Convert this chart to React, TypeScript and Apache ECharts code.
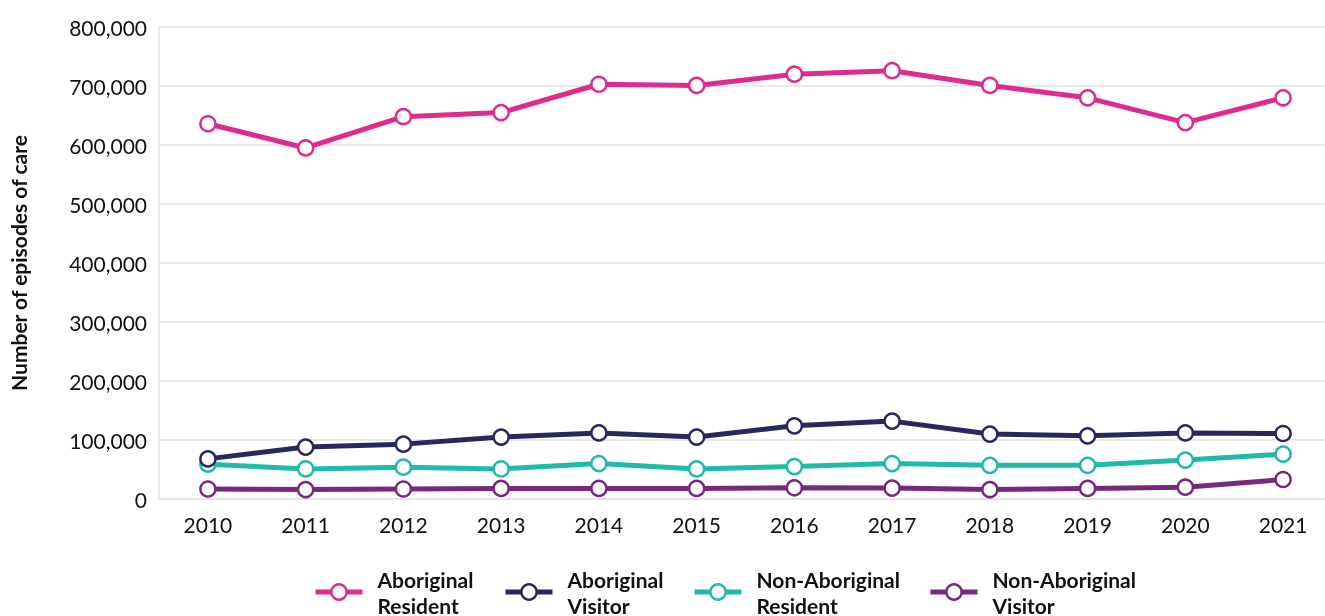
import React, { useEffect, useRef } from "react";
import * as echarts from "echarts";

const years = ["2010", "2011", "2012", "2013", "2014", "2015", "2016", "2017", "2018", "2019", "2020", "2021"];
const aboriginalResident = [636000, 595000, 648000, 655000, 703000, 701000, 720000, 726000, 701000, 680000, 638000, 680000];
const aboriginalVisitor = [68000, 88000, 93000, 105000, 112000, 105000, 124000, 132000, 110000, 107000, 112000, 111000];
const nonAboriginalResident = [59000, 51000, 54000, 51000, 60000, 51000, 55000, 60000, 57000, 57000, 66000, 76000];
const nonAboriginalVisitor = [17000, 16000, 17000, 18000, 18000, 18000, 19000, 18500, 16000, 18000, 20000, 33000];

const seriesNames = ["Aboriginal\nResident", "Aboriginal\nVisitor", "Non-Aboriginal\nResident", "Non-Aboriginal\nVisitor"];
const seriesColors = ["#DF2A8F", "#28285F", "#20BAAA", "#78287F"];
const seriesData = [aboriginalResident, aboriginalVisitor, nonAboriginalResident, nonAboriginalVisitor];
const legendLefts = [313, 503, 692, 928];

export default function App() {
  const ref = useRef<HTMLDivElement>(null);
  useEffect(() => {
    if (!ref.current) return;
    const chart = echarts.init(ref.current, null, { renderer: "svg" });
    const font = "Lato, 'Noto Sans', sans-serif";
    const gridLine = { color: "#e3e3e3", width: 1.5 };
    chart.setOption({
      animation: false,
      textStyle: { fontFamily: font },
      grid: [
        { left: 159, top: 27, width: 1166, height: 472 },
        { left: 207.9, top: 27, width: 1075.2, height: 472 },
      ],
      xAxis: [
        {
          type: "value",
          gridIndex: 0,
          min: 0,
          max: 1,
          axisLine: { show: true, lineStyle: gridLine },
          axisTick: { show: false },
          axisLabel: { show: false },
          splitLine: { show: false },
        },
        {
          type: "category",
          gridIndex: 1,
          data: years,
          boundaryGap: false,
          axisLine: { show: false },
          axisTick: { show: false },
          splitLine: { show: false },
          axisLabel: { color: "#111", fontSize: 21, fontFamily: font, margin: 15 },
        },
      ],
      yAxis: [
        {
          type: "value",
          gridIndex: 0,
          min: 0,
          max: 800000,
          interval: 100000,
          name: "Number of episodes of care",
          nameLocation: "middle",
          nameGap: 130,
          nameTextStyle: { color: "#111", fontSize: 21, fontWeight: "bold", fontFamily: font },
          axisLine: { show: true, lineStyle: gridLine },
          axisTick: { show: false },
          splitLine: { show: true, lineStyle: gridLine },
          axisLabel: {
            color: "#111",
            fontSize: 21,
            fontFamily: font,
            margin: 12,
            formatter: (v: number) => v.toLocaleString("en-US"),
          },
        },
        {
          type: "value",
          gridIndex: 1,
          min: 0,
          max: 800000,
          interval: 100000,
          show: false,
          splitLine: { show: false },
        },
      ],
      legend: seriesNames.map((n, i) => ({
        data: [n],
        left: legendLefts[i],
        top: 566,
        padding: 0,
        itemWidth: 47,
        itemHeight: 19,
        itemGap: 0,
        lineStyle: { width: 5 },
        itemStyle: { borderWidth: 2.5 },
        textStyle: {
          color: "#111",
          fontSize: 21,
          fontWeight: "bold",
          fontFamily: font,
          lineHeight: 26,
          padding: [0, 0, 0, 10],
        },
      })),
      series: seriesNames.map((n, i) => ({
        name: n,
        type: "line",
        xAxisIndex: 1,
        yAxisIndex: 1,
        data: seriesData[i],
        symbol: "circle",
        symbolSize: 15,
        showSymbol: true,
        lineStyle: { color: seriesColors[i], width: 5 },
        itemStyle: { color: "#ffffff", borderColor: seriesColors[i], borderWidth: 2.5 },
        z: 10 - i,
      })),
    });
    return () => chart.dispose();
  }, []);
  return <div ref={ref} style={{ position: "fixed", left: 0, top: 0, width: 1325, height: 616 }} />;
}
